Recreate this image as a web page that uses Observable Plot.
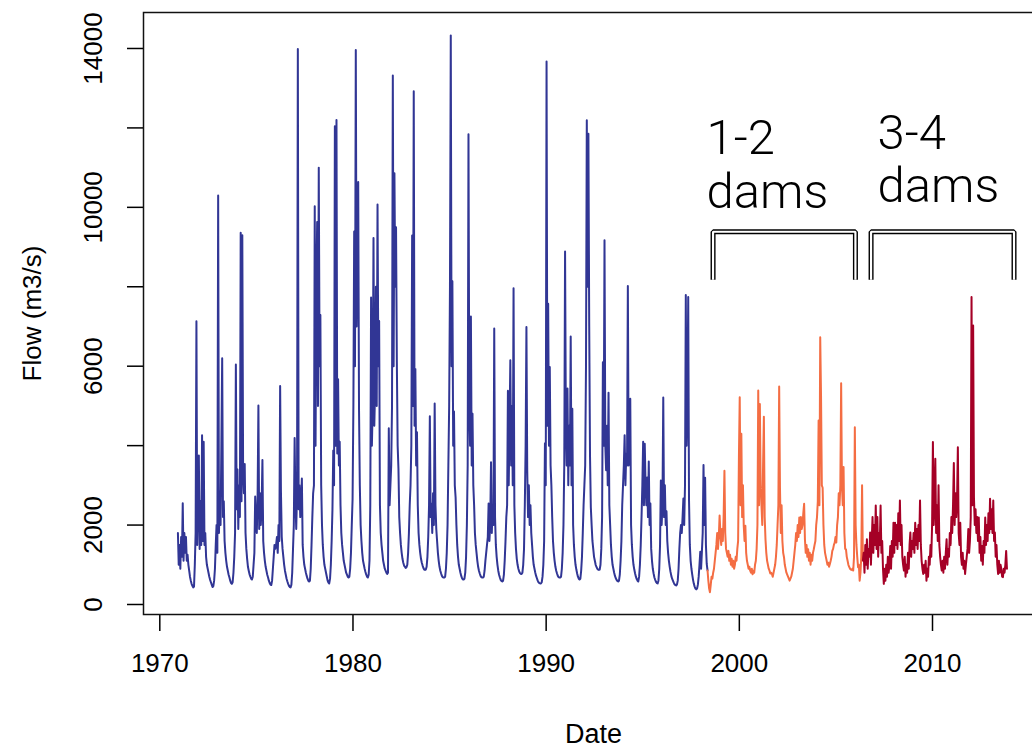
<!DOCTYPE html>
<html>
<head>
<meta charset="utf-8">
<script src="https://cdn.jsdelivr.net/npm/d3@7"></script>
<script src="https://cdn.jsdelivr.net/npm/@observablehq/plot@0.6"></script>
<style>
  html, body { margin: 0; padding: 0; overflow: hidden; background: #fff; }
  #chart svg { display: block; max-width: none !important; }
</style>
</head>
<body>
<div id="chart"></div>
<script>
// ---- axis ticks ----
const xTicks = [1970, 1980, 1990, 2000, 2010];
const yTicks = [0, 2000, 4000, 6000, 8000, 10000, 12000, 14000];
const yTickLabels = [0, 2000, 6000, 10000, 14000];

// ---- flow (m3/s), half-monthly readings, one row per year ----
// pre-dam period (starts 1970, half-month #22)
const preDamStart = [1970, 22];
const preDamFlow = [
  [1800, 1000],
  [1500, 900, 1700, 1200, 2550, 1100, 1800, 1300, 1700, 1100, 1250, 1000, 850, 700, 600, 520, 470, 430, 450, 1000, 1800, 7130, 1500, 2600],
  [3750, 1400, 2600, 1500, 4260, 1600, 4100, 1500, 1800, 1200, 1000, 900, 800, 700, 620, 560, 500, 440, 460, 600, 900, 1500, 2000, 1300],
  [10300, 1800, 2850, 2000, 4060, 6200, 2200, 2600, 1600, 1300, 1100, 950, 850, 750, 680, 600, 540, 520, 560, 800, 1200, 1800, 6040, 2400],
  [3400, 1900, 3000, 2200, 9360, 2600, 9300, 3300, 2800, 3540, 1800, 1400, 1150, 950, 850, 760, 700, 650, 630, 700, 1000, 1300, 2720, 2000],
  [1800, 2700, 5010, 1900, 2800, 2000, 2500, 3640, 1600, 1300, 1100, 950, 850, 750, 680, 600, 540, 500, 490, 600, 900, 1200, 1500, 1400],
  [1500, 1700, 1300, 2000, 1600, 5500, 2850, 1700, 1400, 1200, 1000, 850, 750, 650, 580, 520, 470, 440, 430, 500, 800, 1400, 2000, 4190],
  [2600, 1900, 2800, 13990, 2400, 3000, 2200, 2600, 3170, 1500, 1200, 1000, 900, 800, 720, 650, 600, 580, 600, 900, 1500, 2200, 2800, 3000],
  [10030, 4000, 8000, 9630, 5000, 11000, 6000, 7290, 3000, 2000, 1500, 1200, 1000, 900, 800, 700, 600, 550, 530, 650, 1000, 1600, 2400, 3880],
  [3000, 12040, 4000, 12200, 3800, 5670, 3500, 4100, 2500, 1800, 1500, 1300, 1100, 1000, 900, 800, 750, 700, 680, 700, 900, 1300, 2000, 2650],
  [5000, 9390, 6000, 13960, 7000, 9000, 10640, 4930, 3000, 2000, 1600, 1300, 1100, 1000, 900, 820, 750, 700, 680, 750, 1100, 2500, 7730, 4000],
  [5000, 9230, 4500, 5440, 8000, 5000, 10070, 6000, 7140, 2500, 1800, 1500, 1300, 1100, 1000, 900, 850, 800, 770, 800, 4440, 2500, 3000, 3500],
  [5000, 13320, 6000, 10860, 8000, 9500, 6100, 4000, 3420, 2200, 1800, 1500, 1300, 1150, 1050, 980, 950, 920, 940, 1000, 1300, 1800, 2500, 3000],
  [4000, 9290, 5000, 12920, 4500, 5930, 3500, 4340, 2500, 1800, 1500, 1300, 1150, 1050, 980, 920, 880, 870, 880, 950, 1200, 1700, 2500, 4740],
  [2200, 2540, 1800, 2800, 2000, 5060, 2500, 1900, 1600, 1300, 1100, 950, 850, 780, 720, 690, 680, 680, 700, 900, 1300, 2000, 3500, 5000],
  [8000, 14330, 6000, 8140, 4000, 4860, 3000, 2700, 2000, 1500, 1200, 1000, 900, 800, 720, 660, 630, 630, 650, 800, 1200, 2000, 3500, 11840],
  [5000, 4000, 7250, 3500, 4800, 3000, 2500, 1800, 1500, 1300, 1100, 950, 850, 780, 720, 690, 680, 680, 700, 850, 1100, 1300, 1500, 1700],
  [2540, 1600, 2000, 3580, 1800, 2500, 2000, 6950, 2200, 1500, 1200, 1000, 850, 750, 680, 620, 590, 580, 600, 750, 1100, 1600, 2200, 2500],
  [5380, 3000, 4500, 6150, 3500, 5000, 3000, 7960, 2500, 1800, 1400, 1150, 1000, 900, 830, 790, 770, 770, 800, 1000, 1400, 2500, 4000, 6990],
  [3380, 2200, 3000, 2000, 2500, 1800, 1500, 1200, 1000, 900, 800, 720, 660, 600, 560, 540, 530, 530, 560, 700, 1000, 1600, 4060, 3000],
  [13670, 4500, 7570, 4000, 5980, 3500, 3000, 2200, 1600, 1300, 1100, 950, 850, 780, 720, 690, 680, 680, 700, 900, 1300, 2000, 3500, 8890],
  [4500, 3500, 5440, 3000, 4500, 3500, 6750, 3000, 4930, 2000, 1500, 1200, 1000, 880, 780, 700, 650, 630, 650, 850, 1200, 1800, 2500, 3000],
  [3500, 6000, 12190, 8000, 11850, 7000, 3730, 2450, 2000, 1600, 1400, 1200, 1100, 1000, 950, 900, 880, 870, 880, 1000, 1400, 2200, 6100, 4000],
  [9170, 4000, 3380, 4500, 3000, 5330, 2500, 2000, 1500, 1200, 1000, 900, 800, 720, 660, 620, 590, 580, 600, 750, 1100, 1600, 2500, 3000],
  [3500, 4260, 3000, 3800, 3500, 8020, 3500, 4000, 5180, 2000, 1500, 1200, 1000, 880, 780, 700, 640, 600, 580, 700, 1000, 1500, 2200, 3000],
  [4100, 2500, 4050, 3000, 2500, 3200, 2200, 3600, 2000, 2540, 1400, 1100, 900, 780, 680, 620, 570, 540, 530, 600, 900, 1500, 3120, 2000],
  [2500, 5210, 2200, 3000, 2000, 2350, 1600, 1300, 1100, 950, 820, 720, 650, 600, 550, 510, 490, 480, 500, 600, 900, 1400, 1800, 2000],
  [1800, 2200, 2670, 2000, 3000, 7790, 4000, 5000, 7740, 2620, 1500, 1100, 900, 750, 620, 520, 450, 400, 380, 400, 500, 700, 1000, 1330],
  [900, 1330, 1800, 3510, 2000, 3190, 1500, 1020, 856]
];

// 1-2 dams period (starts 1998, half-month #8)
const twoDamStart = [1998, 8];
const twoDamFlow = [
  [856, 600, 400, 310, 500, 700, 650, 800, 900, 1100, 1300, 1500, 1800, 1400, 1700, 2240],
  [1780, 1500, 1900, 1600, 2200, 3370, 1800, 1400, 1300, 1200, 1350, 1100, 1250, 1000, 1150, 950, 1100, 900, 1000, 1200, 1100, 1400, 1600, 3710],
  [5220, 2500, 4300, 2200, 3000, 1980, 1600, 1980, 1300, 1100, 1000, 900, 950, 850, 800, 900, 760, 850, 800, 1000, 1100, 1400, 2000, 5390],
  [2500, 5050, 3000, 2500, 2000, 3500, 4730, 2200, 1640, 1300, 1100, 1000, 900, 850, 780, 800, 770, 700, 800, 900, 1000, 1200, 1500, 2000],
  [2500, 5490, 2940, 1800, 2500, 1600, 1300, 1190, 1000, 900, 800, 750, 700, 650, 600, 650, 700, 800, 900, 1100, 1300, 1500, 1800, 1600],
  [2000, 1700, 2190, 1800, 2200, 1900, 2000, 2300, 2535, 1640, 1300, 1500, 1200, 1390, 1100, 1300, 1000, 1250, 1100, 1300, 1390, 1500, 1600, 2000],
  [2200, 2600, 4630, 2500, 6730, 5260, 3000, 2940, 2000, 1500, 1300, 1200, 1100, 1000, 1050, 950, 1020, 1100, 1200, 1350, 1400, 1500, 1560, 1700],
  [1560, 2000, 2200, 2800, 2500, 3000, 5570, 3000, 2500, 3460, 1800, 1400, 1390, 1200, 1100, 1000, 950, 900, 880, 870, 900, 856, 1200, 4460],
  [2000, 1500, 1200, 940, 1000, 600, 800, 1200, 3000, 1110]
];

// 3-4 dams period (starts 2006, half-month #9)
const fourDamStart = [2006, 9];
const fourDamFlow = [
  [1110, 1300, 800, 1500, 1000, 1640, 900, 1400, 1200, 1810, 1000, 1600, 2200, 1300, 2000],
  [1500, 2490, 1400, 2200, 1200, 1800, 1500, 2490, 1300, 1600, 900, 520, 900, 600, 1000, 700, 1200, 800, 1000, 1470, 900, 1600, 1200, 2060],
  [1300, 2060, 1500, 2000, 1400, 2300, 1600, 2620, 1500, 2000, 1200, 1000, 856, 1200, 700, 1000, 800, 1300, 900, 1500, 1810, 1200, 1600, 1400],
  [1800, 1300, 2060, 1500, 1900, 1400, 2000, 1600, 2620, 1500, 1100, 900, 770, 1000, 800, 1100, 600, 900, 700, 1200, 1000, 1500, 1200, 2000],
  [4090, 2000, 2500, 3670, 1800, 2500, 1600, 3000, 1500, 1200, 1000, 856, 1100, 800, 1200, 900, 1300, 1640, 1000, 1400, 1200, 1800, 1500, 2200],
  [1800, 2500, 3560, 2000, 2800, 2200, 2600, 3960, 1800, 1500, 2060, 1200, 1000, 1300, 900, 1100, 770, 1000, 1200, 1400, 1900, 1300, 1600, 2200],
  [7740, 2500, 7025, 2700, 2000, 2400, 1800, 2200, 1600, 2190, 1300, 1700, 1100, 1470, 1000, 1600, 1300, 2190, 1500, 2000, 1600, 2300, 1800, 2660],
  [1900, 2400, 1800, 2620, 1600, 1810, 1200, 1500, 1000, 770, 1100, 800, 1000, 900, 700, 690, 900, 800, 1000, 1350, 900]
];

const periodColors = ["#313695", "#f46d43", "#a50026"];

// ---- bracket annotations ----
const bracketSpans = [[1998.64, 2006.01], [2006.82, 2014.22]];
const bracketLevels = [9385, 8176]; // top, foot (flow units)
const bracketTexts = ["1-2\ndams", "3-4\ndams"];
const bracketTextAt = [[1998.30, 9996], [2007.15, 10122]];

// ---- build tables ----
function toSeries(start, rows) {
  return rows.flat().map((v, k) => ({date: start[0] + (start[1] + k + 0.5) / 24, flow: v}));
}
const preDam = toSeries(preDamStart, preDamFlow);
const twoDam = toSeries(twoDamStart, twoDamFlow);
const fourDam = toSeries(fourDamStart, fourDamFlow);

const bracketPts = bracketSpans.flatMap(([a, b], i) => [
  {x: a, y: bracketLevels[1], z: i},
  {x: a, y: bracketLevels[0], z: i},
  {x: b, y: bracketLevels[0], z: i},
  {x: b, y: bracketLevels[1], z: i}
]);
const bracketLabels = bracketTexts.map((t, i) => ({text: t, x: bracketTextAt[i][0], y: bracketTextAt[i][1]}));

const chart = Plot.plot({
  width: 1043,
  height: 751,
  marginLeft: 143,
  marginRight: 0,
  marginTop: 12,
  marginBottom: 137,
  style: {
    fontFamily: "'Liberation Sans', Arial, sans-serif",
    fontSize: "26px",
    background: "white",
    color: "black",
    overflow: "visible",
    maxWidth: "none"
  },
  x: {domain: [1969.156, 2015.746]},
  y: {domain: [-252, 14906]},
  marks: [
    Plot.axisX({ticks: xTicks, tickFormat: d => String(d), tickSize: 17, tickPadding: 22, strokeWidth: 1.5, label: null, fontSize: 26}),
    Plot.axisY({ticks: yTicks, tickFormat: () => "", tickSize: 16, strokeWidth: 1.5, label: null}),
    Plot.text(yTickLabels, {y: d => d, text: d => String(d), frameAnchor: "left", dx: -50, rotate: -90, textAnchor: "middle", lineAnchor: "middle", fontSize: 26}),
    Plot.text(["Flow (m3/s)"], {text: d => d, frameAnchor: "left", dx: -111, rotate: -90, textAnchor: "middle", lineAnchor: "middle", fontSize: 26}),
    Plot.text(["Date"], {text: d => d, frameAnchor: "bottom", dy: 120, textAnchor: "middle", lineAnchor: "middle", fontSize: 27}),
    Plot.line(preDam, {x: "date", y: "flow", stroke: periodColors[0], strokeWidth: 2}),
    Plot.line(twoDam, {x: "date", y: "flow", stroke: periodColors[1], strokeWidth: 2}),
    Plot.line(fourDam, {x: "date", y: "flow", stroke: periodColors[2], strokeWidth: 2}),
    Plot.line(bracketPts, {x: "x", y: "y", z: "z", stroke: "black", strokeWidth: 5, strokeLinejoin: "miter", strokeLinecap: "butt", curve: "linear"}),
    Plot.line(bracketPts, {x: "x", y: "y", z: "z", stroke: "white", strokeWidth: 2.2, strokeLinejoin: "miter", strokeLinecap: "butt", curve: "linear"}),
    Plot.text(bracketLabels, {x: "x", y: "y", text: "text", textAnchor: "start", lineAnchor: "bottom", lineHeight: 1.1, fontSize: 49, fontFamily: "Roboto", fontWeight: 300, fill: "black"}),
    Plot.frame({stroke: "#111", strokeWidth: 1.5})
  ]
});
document.getElementById("chart").appendChild(chart);
</script>
</body>
</html>
